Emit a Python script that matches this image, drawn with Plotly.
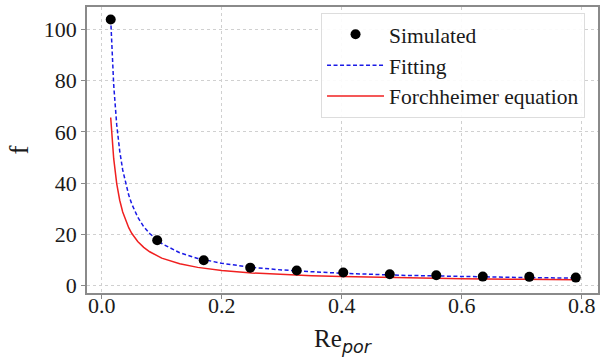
import plotly.graph_objects as go

# Simulated data
re_sim = [0.015, 0.0925, 0.17, 0.2475, 0.325, 0.4025, 0.48, 0.5575, 0.635, 0.7125, 0.79]
f_sim = [103.8, 17.7, 9.9, 7.0, 5.9, 5.1, 4.4, 4.0, 3.5, 3.4, 3.1]

# Fitting curve
re_fit = [0.015, 0.0175, 0.02, 0.025, 0.03, 0.035, 0.04, 0.045, 0.05, 0.06, 0.07, 0.08,
          0.1, 0.13, 0.16, 0.2, 0.25, 0.3, 0.35, 0.4, 0.5, 0.6, 0.7, 0.79]
f_fit = [104.0, 89.3, 78.2, 62.8, 52.5, 45.1, 39.6, 35.3, 31.9, 26.7, 23.0, 20.3,
         16.4, 12.8, 10.6, 8.7, 7.1, 6.1, 5.4, 4.8, 4.0, 3.5, 3.15, 2.9]

# Forchheimer equation curve
re_for = re_fit
f_for = [65.6, 56.4, 49.5, 39.8, 33.3, 28.7, 25.3, 22.6, 20.4, 17.2, 14.9, 13.2,
         10.7, 8.5, 7.1, 5.9, 4.9, 4.3, 3.8, 3.5, 3.0, 2.7, 2.45, 2.3]

x_ticks = [0.0, 0.2, 0.4, 0.6, 0.8]
x_tick_labels = ["0.0", "0.2", "0.4", "0.6", "0.8"]
y_ticks = [0, 20, 40, 60, 80, 100]

serif = "Liberation Serif, Times New Roman, serif"
x_range = [-0.0245, 0.827]

fig = go.Figure()
fig.add_trace(go.Scatter(x=re_fit, y=f_fit, mode="lines", name="Fitting", legendrank=2,
                         line=dict(color="#1a1ae6", width=1.5, dash="4px,2.5px")))
fig.add_trace(go.Scatter(x=re_for, y=f_for, mode="lines", name="Forchheimer equation", legendrank=3,
                         line=dict(color="#f02020", width=1.5)))
fig.add_trace(go.Scatter(x=re_sim, y=f_sim, mode="markers", name="Simulated", legendrank=1,
                         marker=dict(color="black", size=10)))
# invisible helper trace so the label axis (x2) is drawn
fig.add_trace(go.Scatter(x=re_sim[:1], y=f_sim[:1], xaxis="x2", mode="markers",
                         marker=dict(opacity=0), showlegend=False, hoverinfo="skip"))

axis_common = dict(
    showline=True, linecolor="#8a8a8a", linewidth=1.5, mirror=True,
    showgrid=True, gridcolor="#d0d0d0", griddash="dot", gridwidth=1,
    ticks="outside", ticklen=4, tickcolor="#8a8a8a",
    tickfont=dict(family=serif, size=22, color="#1a1a1a"),
    zeroline=False, automargin=False,
)

fig.update_layout(
    width=601, height=359,
    margin=dict(l=87, r=3, t=7, b=66),
    paper_bgcolor="white", plot_bgcolor="white",
    font=dict(family=serif, color="#1a1a1a"),
    xaxis=dict(axis_common, range=x_range, tickvals=x_ticks, showticklabels=False),
    xaxis2=dict(overlaying="x", matches="x", anchor="free", position=0.009,
                range=x_range, tickvals=x_ticks, ticktext=x_tick_labels,
                showline=False, showgrid=False, zeroline=False, ticks="",
                automargin=False,
                tickfont=dict(family=serif, size=22, color="#1a1a1a"),
                title=dict(text="Re<sub><span style='font-family:DejaVu Sans;font-style:italic'>por</span></sub>",
                           font=dict(family=serif, size=25), standoff=12)),
    yaxis=dict(axis_common, range=[-2.9, 108.7], tickvals=y_ticks,
               title=dict(text="f", font=dict(family=serif, size=27), standoff=7)),
    legend=dict(x=0.458, y=0.98, xanchor="left", yanchor="top",
                bgcolor="rgba(255,255,255,0.9)", bordercolor="#dddddd", borderwidth=1,
                font=dict(family=serif, size=21.5, color="#1a1a1a"),
                traceorder="normal", itemwidth=57),
    showlegend=True,
)

fig.write_html("out.html", config={"displayModeBar": False},
               post_script="document.body.style.margin='0';")
